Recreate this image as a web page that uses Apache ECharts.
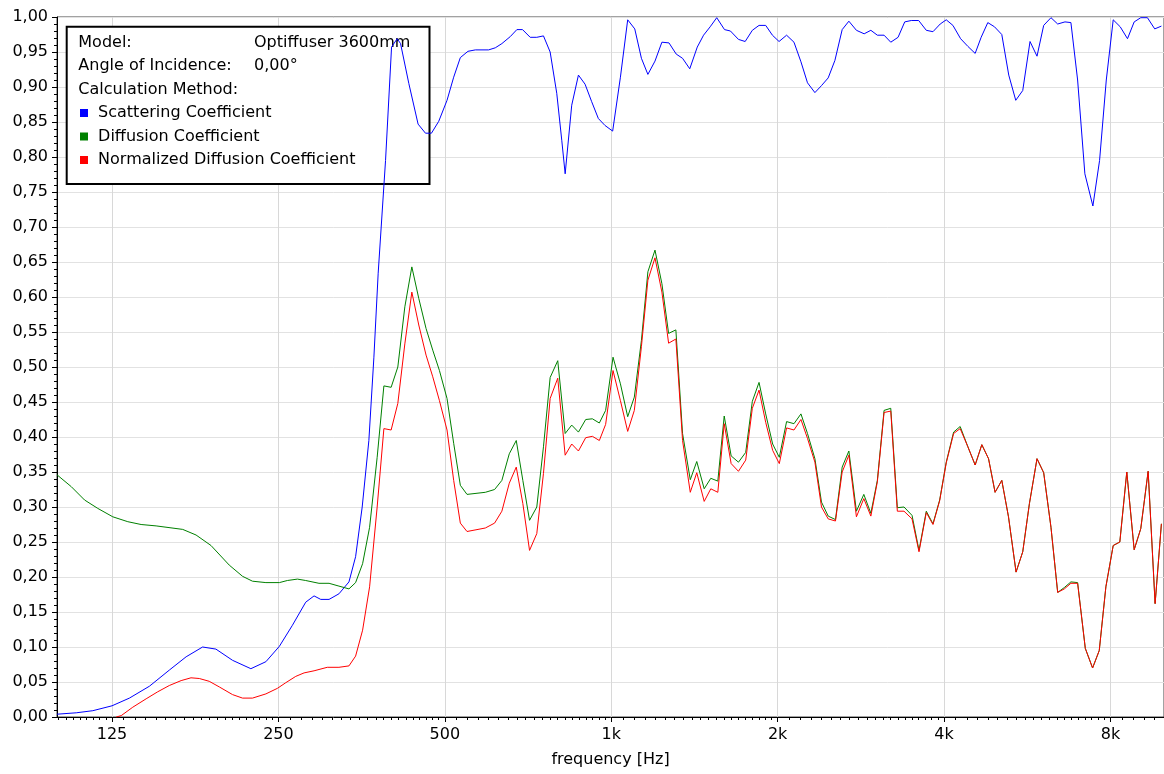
<!DOCTYPE html>
<html>
<head>
<meta charset="utf-8">
<title>Optiffuser 3600mm</title>
<script src="https://cdn.jsdelivr.net/npm/echarts@6.0.0/dist/echarts.min.js"></script>
<style>
  html, body { margin: 0; padding: 0; background: #fff; }
  #chart { width: 1164px; height: 774px; }
</style>
</head>
<body>
<div id="chart"></div>
<script>
const FONT = '"DejaVu Sans", Arial, sans-serif'

// axis ticks
const tickFreqs = [125, 250, 500, 1000, 2000, 4000, 8000]
const tickLabels = ['125', '250', '500', '1k', '2k', '4k', '8k']
const freqMin = 99.4
const freqMax = 10000

// info box
const infoLabels = ['Model:', 'Angle of Incidence:', 'Calculation Method:']
const infoValues = ['Optiffuser 3600mm', '0,00°', '']
const seriesNames = ['Scattering Coefficient', 'Diffusion Coefficient', 'Normalized Diffusion Coefficient']
const seriesColors = ['#0000ff', '#008000', '#ff0000']

// scattering coefficient
const scatFreq = [
  99.4, 107.7, 115.4, 125, 134.4, 146.1, 158.7, 170.2, 182.3, 192.7,
  206.5, 222.9, 237.3, 251, 265, 280.1, 290, 298.2, 308.7, 321.7,
  335.4, 344.8, 354.4, 364.4, 372.1, 378.8, 390.6, 400.5, 410, 415.8,
  430.4, 447.3, 461.3, 472.9, 487.5, 504.6, 518.8, 533.4, 550.6, 567.8,
  600, 617, 634.1, 656.7, 675, 691.1, 713.6, 733.4, 754.1, 775.4,
  797, 813.8, 825.4, 848.3, 872.3, 896.8, 921.8, 947.8, 974.6, 1006,
  1039, 1071, 1103, 1134, 1165, 1200, 1235, 1272, 1311, 1346,
  1387, 1431, 1469, 1510, 1552, 1603, 1643, 1699, 1747, 1800,
  1851, 1903, 1957, 2012, 2076, 2141, 2204, 2265, 2336, 2401,
  2469, 2539, 2617, 2691, 2777, 2868, 2949, 3030, 3116, 3204,
  3303, 3396, 3490, 3599, 3715, 3820, 3937, 4037, 4151, 4286,
  4418, 4554, 4669, 4800, 4936, 5088, 5238, 5393, 5552, 5723,
  5892, 6058, 6245, 6422, 6620, 6786, 6978, 7192, 7436, 7646,
  7863, 8093, 8333, 8589, 8832, 9077, 9333, 9621, 9892
]
const scatVal = [
  0.004, 0.006, 0.009, 0.016, 0.027, 0.044, 0.067, 0.086, 0.100, 0.097,
  0.081, 0.069, 0.079, 0.101, 0.131, 0.164, 0.173, 0.168, 0.168, 0.176,
  0.193, 0.229, 0.300, 0.395, 0.514, 0.634, 0.795, 0.957, 0.969, 0.962,
  0.905, 0.847, 0.834, 0.834, 0.851, 0.881, 0.914, 0.942, 0.951, 0.953,
  0.953, 0.956, 0.962, 0.972, 0.982, 0.982, 0.971, 0.971, 0.973, 0.950,
  0.891, 0.824, 0.776, 0.874, 0.917, 0.904, 0.879, 0.855, 0.845, 0.837,
  0.914, 0.996, 0.983, 0.941, 0.918, 0.937, 0.964, 0.963, 0.947, 0.941,
  0.926, 0.957, 0.974, 0.986, 0.999, 0.982, 0.980, 0.968, 0.965, 0.981,
  0.988, 0.988, 0.974, 0.965, 0.974, 0.964, 0.936, 0.906, 0.892, 0.902,
  0.913, 0.938, 0.982, 0.994, 0.981, 0.976, 0.981, 0.974, 0.974, 0.964,
  0.971, 0.993, 0.995, 0.995, 0.981, 0.979, 0.990, 0.996, 0.988, 0.969,
  0.958, 0.948, 0.971, 0.992, 0.986, 0.975, 0.917, 0.881, 0.895, 0.965,
  0.944, 0.988, 0.999, 0.990, 0.993, 0.992, 0.910, 0.776, 0.730, 0.795,
  0.910, 0.996, 0.986, 0.969, 0.993, 0.999, 0.999, 0.983, 0.987
]

// diffusion coefficient, low range
const diffLowFreq = [
  99.4, 105.5, 111.5, 117.8, 125.4, 133.5, 141.1, 150.2, 167.8, 177.4,
  188.8, 203.7, 215.3, 224.4, 237.3, 251, 259.5, 270.6, 280.1, 296,
  308.7, 321.7, 335.4
]
const diffLowVal = [
  0.346, 0.329, 0.310, 0.298, 0.286, 0.279, 0.275, 0.273, 0.268, 0.260,
  0.245, 0.217, 0.201, 0.194, 0.192, 0.192, 0.195, 0.197, 0.195, 0.191,
  0.191, 0.187, 0.183
]

// normalized diffusion coefficient, low range
const normLowFreq = [
  127.2, 129.9, 136.3, 144.1, 151.2, 158.7, 166.7, 173.7, 179.8, 187.4,
  195.4, 206.5, 215.3, 224.4, 237.3, 249, 257.8, 268.7, 278.2, 290,
  306.4, 321.7, 335.4
]
const normLowVal = [
  0.000, 0.002, 0.014, 0.026, 0.036, 0.045, 0.052, 0.056, 0.055, 0.051,
  0.043, 0.032, 0.027, 0.027, 0.033, 0.041, 0.049, 0.058, 0.063, 0.066,
  0.071, 0.071, 0.073
]

// shared frequencies above ~345 Hz for both diffusion curves
const midFreq = [
  344.8, 355, 365.5, 377.2, 387.9, 399.8, 411.1, 423.3, 435.8, 448.6,
  462.4, 475.5, 488.9, 504.6, 518.8, 533.4, 548.4, 591.9, 615.2, 634.1,
  654, 673.3, 692, 711.6, 733.4, 754.1, 775.4, 800.3, 825.4, 848.3,
  872.3, 899.1, 924.5, 951.7, 977, 1007.5, 1039, 1071, 1101, 1134,
  1165, 1200, 1235, 1270, 1309, 1346, 1390, 1428, 1473, 1514,
  1559, 1601, 1648, 1699, 1751, 1800, 1851, 1903, 1959, 2014,
  2076, 2141, 2204, 2265, 2336, 2401, 2469, 2545, 2617, 2691,
  2777, 2864, 2949, 3030, 3116, 3204, 3293, 3386, 3501, 3604,
  3715, 3820, 3928, 4037, 4163, 4278, 4418, 4554, 4682, 4815,
  4948, 5088, 5232, 5400, 5552, 5709, 5892, 6058, 6245, 6422,
  6603, 6786, 6978, 7205, 7427, 7636, 7850, 8093, 8319, 8564,
  8832, 9077, 9361, 9637, 9892
]
const diffMidVal = [
  0.192, 0.219, 0.271, 0.371, 0.473, 0.471, 0.500, 0.586, 0.643, 0.598,
  0.555, 0.524, 0.495, 0.455, 0.391, 0.331, 0.318, 0.321, 0.325, 0.338,
  0.376, 0.395, 0.338, 0.281, 0.300, 0.386, 0.485, 0.509, 0.405, 0.417,
  0.407, 0.425, 0.426, 0.420, 0.438, 0.514, 0.476, 0.429, 0.457, 0.538,
  0.636, 0.667, 0.619, 0.548, 0.553, 0.405, 0.339, 0.365, 0.326, 0.341,
  0.337, 0.430, 0.373, 0.364, 0.378, 0.451, 0.478, 0.433, 0.390, 0.371,
  0.422, 0.419, 0.433, 0.405, 0.369, 0.307, 0.287, 0.282, 0.357, 0.380,
  0.294, 0.318, 0.291, 0.338, 0.438, 0.441, 0.299, 0.300, 0.288, 0.238,
  0.294, 0.276, 0.310, 0.364, 0.407, 0.415, 0.386, 0.360, 0.389, 0.369,
  0.321, 0.338, 0.286, 0.207, 0.236, 0.305, 0.369, 0.349, 0.271, 0.178,
  0.185, 0.193, 0.192, 0.098, 0.070, 0.095, 0.186, 0.245, 0.250, 0.350,
  0.239, 0.269, 0.351, 0.162, 0.276
]
const normMidVal = [
  0.087, 0.124, 0.186, 0.300, 0.412, 0.410, 0.448, 0.533, 0.607, 0.560,
  0.517, 0.486, 0.452, 0.410, 0.338, 0.277, 0.265, 0.270, 0.277, 0.294,
  0.334, 0.357, 0.305, 0.238, 0.262, 0.348, 0.455, 0.484, 0.374, 0.390,
  0.380, 0.399, 0.401, 0.395, 0.418, 0.495, 0.452, 0.408, 0.438, 0.529,
  0.624, 0.656, 0.607, 0.534, 0.540, 0.395, 0.321, 0.349, 0.308, 0.326,
  0.321, 0.419, 0.362, 0.351, 0.367, 0.441, 0.467, 0.421, 0.381, 0.362,
  0.413, 0.410, 0.425, 0.398, 0.364, 0.300, 0.283, 0.280, 0.350, 0.374,
  0.286, 0.312, 0.287, 0.336, 0.435, 0.437, 0.294, 0.294, 0.283, 0.236,
  0.292, 0.275, 0.309, 0.363, 0.405, 0.412, 0.386, 0.360, 0.389, 0.369,
  0.321, 0.338, 0.286, 0.207, 0.236, 0.305, 0.369, 0.349, 0.271, 0.178,
  0.183, 0.191, 0.191, 0.098, 0.070, 0.095, 0.186, 0.245, 0.250, 0.350,
  0.239, 0.269, 0.351, 0.162, 0.276
]

// x axis works in octaves relative to 1 kHz
const oct = f => Math.log2(f / 1000)
const pairs = (fs, vs) => fs.map((f, i) => [oct(f), vs[i]])

const seriesData = [
  pairs(scatFreq, scatVal),
  pairs(diffLowFreq.concat(midFreq), diffLowVal.concat(diffMidVal)),
  pairs(normLowFreq.concat(midFreq), normLowVal.concat(normMidVal))
]

// small ticks between octaves
const minorTicks = []
for (let base = 62.5; base < freqMax; base *= 2) {
  for (let k = 1; k < 20; k++) {
    const f = base * (1 + k / 20)
    if (f > freqMin && f < freqMax) minorTicks.push(oct(f))
  }
}

const majorTicks = tickFreqs.map(oct)

const chart = echarts.init(document.getElementById('chart'))

const infoGraphics = [{
  type: 'rect',
  z: 1,
  shape: { x: 66.7, y: 26.7, width: 362.8, height: 157.3 },
  style: { fill: '#fff', stroke: '#000', lineWidth: 2 }
}]
infoLabels.forEach((t, i) => {
  const y = 42.5 + i * 23.5
  infoGraphics.push({
    type: 'text', z: 1, x: 78.3, y: y,
    style: { text: t, font: '16px ' + FONT, fill: '#000', verticalAlign: 'middle' }
  })
  if (infoValues[i]) {
    infoGraphics.push({
      type: 'text', z: 1, x: 254, y: y,
      style: { text: infoValues[i], font: '16px ' + FONT, fill: '#000', verticalAlign: 'middle' }
    })
  }
})

const option = {
  animation: false,
  backgroundColor: '#fff',
  textStyle: { fontFamily: FONT },
  grid: {
    left: 57, right: -3, top: 17, bottom: 57,
    show: true, borderColor: '#444', borderWidth: 1
  },
  graphic: infoGraphics,
  legend: {
    data: seriesNames,
    orient: 'vertical',
    left: 80,
    top: 105,
    padding: 0,
    icon: 'rect',
    itemWidth: 8,
    itemHeight: 8,
    itemGap: 7.5,
    formatter: name => ' ' + name,
    textStyle: { fontSize: 16, color: '#000', fontFamily: FONT }
  },
  xAxis: [
    {
      type: 'value',
      min: oct(freqMin),
      max: oct(freqMax),
      name: 'frequency [Hz]',
      nameLocation: 'middle',
      nameGap: 35,
      nameTextStyle: { fontSize: 16, color: '#000', fontFamily: FONT },
      axisLine: { onZero: false, lineStyle: { color: '#000' } },
      axisTick: { customValues: majorTicks, length: 5, lineStyle: { color: '#000' } },
      axisLabel: {
        customValues: majorTicks,
        margin: 10,
        fontSize: 16,
        color: '#000',
        fontFamily: FONT,
        formatter: v => {
          const i = majorTicks.findIndex(m => Math.abs(m - v) < 1e-6)
          return i >= 0 ? tickLabels[i] : ''
        }
      },
      splitLine: { show: true, lineStyle: { color: '#d8d8d8' } }
    },
    {
      type: 'value',
      position: 'bottom',
      min: oct(freqMin),
      max: oct(freqMax),
      axisLine: { show: false, onZero: false },
      axisTick: { customValues: minorTicks, length: 3, lineStyle: { color: '#000' } },
      axisLabel: { show: false },
      splitLine: { show: false }
    }
  ],
  yAxis: {
    type: 'value',
    min: 0,
    max: 1,
    interval: 0.05,
    axisLine: { show: true, onZero: false, lineStyle: { color: '#000' } },
    axisTick: { show: true, length: 5, lineStyle: { color: '#000' } },
    minorTick: { show: true, splitNumber: 5, length: 3, lineStyle: { color: '#000' } },
    axisLabel: {
      margin: 9,
      fontSize: 16,
      color: '#000',
      fontFamily: FONT,
      formatter: v => v.toFixed(2).replace('.', ',')
    },
    splitLine: { show: true, lineStyle: { color: '#e2e2e2' } }
  },
  series: seriesNames.map((name, i) => ({
    name: name,
    type: 'line',
    data: seriesData[i],
    showSymbol: false,
    symbol: 'none',
    color: seriesColors[i],
    lineStyle: { width: 1, color: seriesColors[i] }
  }))
}

chart.setOption(option)
</script>
</body>
</html>
